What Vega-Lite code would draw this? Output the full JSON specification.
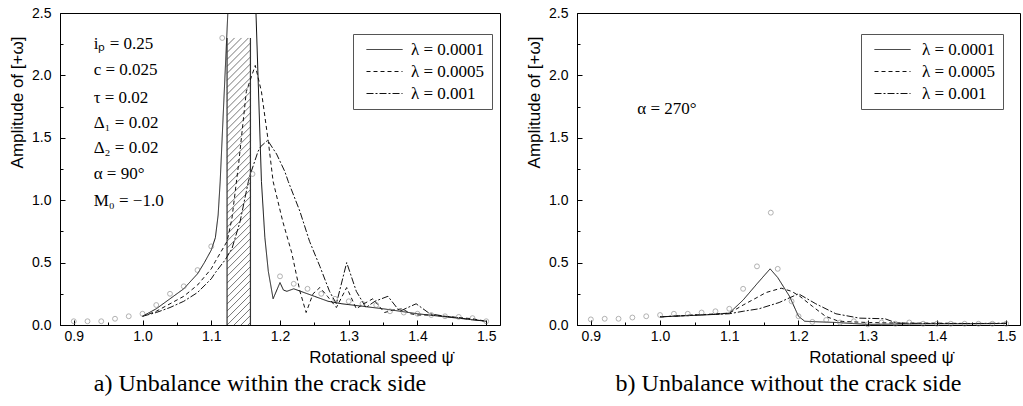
{
  "$schema": "https://vega.github.io/schema/vega-lite/v6.json",
  "padding": {"left": 8, "top": 5, "right": 0, "bottom": 0},
  "background": "white",
  "spacing": 24,
  "datasets": {
    "leftCurves": [
      {"s": "λ = 0.0001", "x": 1.0, "y": 0.07}, {"s": "λ = 0.0001", "x": 1.02, "y": 0.13}, {"s": "λ = 0.0001", "x": 1.04, "y": 0.21}, {"s": "λ = 0.0001", "x": 1.06, "y": 0.29}, {"s": "λ = 0.0001", "x": 1.08, "y": 0.41}, {"s": "λ = 0.0001", "x": 1.09, "y": 0.5}, {"s": "λ = 0.0001", "x": 1.1, "y": 0.6}, {"s": "λ = 0.0001", "x": 1.106, "y": 0.7}, {"s": "λ = 0.0001", "x": 1.11, "y": 0.88}, {"s": "λ = 0.0001", "x": 1.113, "y": 1.15}, {"s": "λ = 0.0001", "x": 1.148, "y": 5.4}, {"s": "λ = 0.0001", "x": 1.173, "y": 1.15}, {"s": "λ = 0.0001", "x": 1.178, "y": 0.7}, {"s": "λ = 0.0001", "x": 1.183, "y": 0.43}, {"s": "λ = 0.0001", "x": 1.19, "y": 0.21}, {"s": "λ = 0.0001", "x": 1.2, "y": 0.34}, {"s": "λ = 0.0001", "x": 1.205, "y": 0.28}, {"s": "λ = 0.0001", "x": 1.21, "y": 0.27}, {"s": "λ = 0.0001", "x": 1.22, "y": 0.29}, {"s": "λ = 0.0001", "x": 1.23, "y": 0.27}, {"s": "λ = 0.0001", "x": 1.25, "y": 0.23}, {"s": "λ = 0.0001", "x": 1.27, "y": 0.19}, {"s": "λ = 0.0001", "x": 1.29, "y": 0.17}, {"s": "λ = 0.0001", "x": 1.32, "y": 0.15}, {"s": "λ = 0.0001", "x": 1.35, "y": 0.13}, {"s": "λ = 0.0001", "x": 1.4, "y": 0.09}, {"s": "λ = 0.0001", "x": 1.45, "y": 0.06}, {"s": "λ = 0.0001", "x": 1.5, "y": 0.03},
      {"s": "λ = 0.0005", "x": 1.0, "y": 0.07}, {"s": "λ = 0.0005", "x": 1.02, "y": 0.11}, {"s": "λ = 0.0005", "x": 1.04, "y": 0.17}, {"s": "λ = 0.0005", "x": 1.06, "y": 0.23}, {"s": "λ = 0.0005", "x": 1.08, "y": 0.32}, {"s": "λ = 0.0005", "x": 1.1, "y": 0.45}, {"s": "λ = 0.0005", "x": 1.106, "y": 0.51}, {"s": "λ = 0.0005", "x": 1.123, "y": 0.67}, {"s": "λ = 0.0005", "x": 1.13, "y": 0.85}, {"s": "λ = 0.0005", "x": 1.14, "y": 1.3}, {"s": "λ = 0.0005", "x": 1.151, "y": 1.87}, {"s": "λ = 0.0005", "x": 1.164, "y": 2.08}, {"s": "λ = 0.0005", "x": 1.173, "y": 1.87}, {"s": "λ = 0.0005", "x": 1.183, "y": 1.47}, {"s": "λ = 0.0005", "x": 1.19, "y": 1.15}, {"s": "λ = 0.0005", "x": 1.204, "y": 0.83}, {"s": "λ = 0.0005", "x": 1.217, "y": 0.58}, {"s": "λ = 0.0005", "x": 1.229, "y": 0.27}, {"s": "λ = 0.0005", "x": 1.238, "y": 0.1}, {"s": "λ = 0.0005", "x": 1.248, "y": 0.25}, {"s": "λ = 0.0005", "x": 1.258, "y": 0.3}, {"s": "λ = 0.0005", "x": 1.269, "y": 0.23}, {"s": "λ = 0.0005", "x": 1.282, "y": 0.14}, {"s": "λ = 0.0005", "x": 1.297, "y": 0.3}, {"s": "λ = 0.0005", "x": 1.311, "y": 0.13}, {"s": "λ = 0.0005", "x": 1.322, "y": 0.17}, {"s": "λ = 0.0005", "x": 1.335, "y": 0.21}, {"s": "λ = 0.0005", "x": 1.352, "y": 0.1}, {"s": "λ = 0.0005", "x": 1.365, "y": 0.12}, {"s": "λ = 0.0005", "x": 1.378, "y": 0.13}, {"s": "λ = 0.0005", "x": 1.39, "y": 0.09}, {"s": "λ = 0.0005", "x": 1.4, "y": 0.08}, {"s": "λ = 0.0005", "x": 1.42, "y": 0.08}, {"s": "λ = 0.0005", "x": 1.44, "y": 0.07}, {"s": "λ = 0.0005", "x": 1.46, "y": 0.06}, {"s": "λ = 0.0005", "x": 1.48, "y": 0.05}, {"s": "λ = 0.0005", "x": 1.5, "y": 0.03},
      {"s": "λ = 0.001", "x": 1.0, "y": 0.07}, {"s": "λ = 0.001", "x": 1.02, "y": 0.1}, {"s": "λ = 0.001", "x": 1.04, "y": 0.14}, {"s": "λ = 0.001", "x": 1.06, "y": 0.19}, {"s": "λ = 0.001", "x": 1.08, "y": 0.26}, {"s": "λ = 0.001", "x": 1.1, "y": 0.37}, {"s": "λ = 0.001", "x": 1.106, "y": 0.42}, {"s": "λ = 0.001", "x": 1.12, "y": 0.52}, {"s": "λ = 0.001", "x": 1.13, "y": 0.61}, {"s": "λ = 0.001", "x": 1.142, "y": 0.83}, {"s": "λ = 0.001", "x": 1.154, "y": 1.15}, {"s": "λ = 0.001", "x": 1.157, "y": 1.21}, {"s": "λ = 0.001", "x": 1.168, "y": 1.39}, {"s": "λ = 0.001", "x": 1.172, "y": 1.43}, {"s": "λ = 0.001", "x": 1.182, "y": 1.48}, {"s": "λ = 0.001", "x": 1.195, "y": 1.37}, {"s": "λ = 0.001", "x": 1.207, "y": 1.23}, {"s": "λ = 0.001", "x": 1.212, "y": 1.15}, {"s": "λ = 0.001", "x": 1.229, "y": 0.91}, {"s": "λ = 0.001", "x": 1.243, "y": 0.67}, {"s": "λ = 0.001", "x": 1.258, "y": 0.47}, {"s": "λ = 0.001", "x": 1.272, "y": 0.27}, {"s": "λ = 0.001", "x": 1.282, "y": 0.17}, {"s": "λ = 0.001", "x": 1.297, "y": 0.5}, {"s": "λ = 0.001", "x": 1.311, "y": 0.27}, {"s": "λ = 0.001", "x": 1.325, "y": 0.14}, {"s": "λ = 0.001", "x": 1.338, "y": 0.19}, {"s": "λ = 0.001", "x": 1.357, "y": 0.23}, {"s": "λ = 0.001", "x": 1.374, "y": 0.11}, {"s": "λ = 0.001", "x": 1.386, "y": 0.14}, {"s": "λ = 0.001", "x": 1.398, "y": 0.17}, {"s": "λ = 0.001", "x": 1.418, "y": 0.09}, {"s": "λ = 0.001", "x": 1.44, "y": 0.07}, {"s": "λ = 0.001", "x": 1.47, "y": 0.05}, {"s": "λ = 0.001", "x": 1.5, "y": 0.03}
    ],
    "leftPts": [
      {"x": 0.9, "y": 0.03}, {"x": 0.92, "y": 0.03}, {"x": 0.94, "y": 0.03}, {"x": 0.96, "y": 0.05}, {"x": 0.98, "y": 0.07}, {"x": 1.0, "y": 0.09}, {"x": 1.02, "y": 0.16}, {"x": 1.04, "y": 0.25}, {"x": 1.06, "y": 0.31}, {"x": 1.08, "y": 0.44}, {"x": 1.1, "y": 0.63}, {"x": 1.116, "y": 2.3}, {"x": 1.16, "y": 1.21}, {"x": 1.2, "y": 0.39}, {"x": 1.22, "y": 0.33}, {"x": 1.24, "y": 0.29}, {"x": 1.26, "y": 0.25}, {"x": 1.28, "y": 0.21}, {"x": 1.3, "y": 0.19}, {"x": 1.32, "y": 0.17}, {"x": 1.34, "y": 0.16}, {"x": 1.36, "y": 0.11}, {"x": 1.38, "y": 0.1}, {"x": 1.4, "y": 0.09}, {"x": 1.42, "y": 0.08}, {"x": 1.44, "y": 0.07}, {"x": 1.46, "y": 0.065}, {"x": 1.48, "y": 0.055}, {"x": 1.5, "y": 0.03}
    ],
    "crack": [{"x": 1.123, "x2": 1.157, "y": 0, "y2": 2.3}],
    "crackEdges": [{"x": 1.123, "y": 0, "y2": 2.3}, {"x": 1.157, "y": 0, "y2": 2.3}],
    "hatch": [
      {"x": 1.123, "y": -0.168, "x2": 1.157, "y2": 0.02}, {"x": 1.123, "y": -0.112, "x2": 1.157, "y2": 0.076}, {"x": 1.123, "y": -0.056, "x2": 1.157, "y2": 0.132}, {"x": 1.123, "y": 0, "x2": 1.157, "y2": 0.188}, {"x": 1.123, "y": 0.056, "x2": 1.157, "y2": 0.244}, {"x": 1.123, "y": 0.112, "x2": 1.157, "y2": 0.3}, {"x": 1.123, "y": 0.168, "x2": 1.157, "y2": 0.356}, {"x": 1.123, "y": 0.224, "x2": 1.157, "y2": 0.412}, {"x": 1.123, "y": 0.28, "x2": 1.157, "y2": 0.468}, {"x": 1.123, "y": 0.336, "x2": 1.157, "y2": 0.524}, {"x": 1.123, "y": 0.392, "x2": 1.157, "y2": 0.58}, {"x": 1.123, "y": 0.448, "x2": 1.157, "y2": 0.636}, {"x": 1.123, "y": 0.504, "x2": 1.157, "y2": 0.692}, {"x": 1.123, "y": 0.56, "x2": 1.157, "y2": 0.748}, {"x": 1.123, "y": 0.616, "x2": 1.157, "y2": 0.804}, {"x": 1.123, "y": 0.672, "x2": 1.157, "y2": 0.86}, {"x": 1.123, "y": 0.728, "x2": 1.157, "y2": 0.916}, {"x": 1.123, "y": 0.784, "x2": 1.157, "y2": 0.972}, {"x": 1.123, "y": 0.84, "x2": 1.157, "y2": 1.028}, {"x": 1.123, "y": 0.896, "x2": 1.157, "y2": 1.084}, {"x": 1.123, "y": 0.952, "x2": 1.157, "y2": 1.14}, {"x": 1.123, "y": 1.008, "x2": 1.157, "y2": 1.196}, {"x": 1.123, "y": 1.064, "x2": 1.157, "y2": 1.252}, {"x": 1.123, "y": 1.12, "x2": 1.157, "y2": 1.308}, {"x": 1.123, "y": 1.176, "x2": 1.157, "y2": 1.364}, {"x": 1.123, "y": 1.232, "x2": 1.157, "y2": 1.42}, {"x": 1.123, "y": 1.288, "x2": 1.157, "y2": 1.476}, {"x": 1.123, "y": 1.344, "x2": 1.157, "y2": 1.532}, {"x": 1.123, "y": 1.4, "x2": 1.157, "y2": 1.588}, {"x": 1.123, "y": 1.456, "x2": 1.157, "y2": 1.644}, {"x": 1.123, "y": 1.512, "x2": 1.157, "y2": 1.7}, {"x": 1.123, "y": 1.568, "x2": 1.157, "y2": 1.756}, {"x": 1.123, "y": 1.624, "x2": 1.157, "y2": 1.812}, {"x": 1.123, "y": 1.68, "x2": 1.157, "y2": 1.868}, {"x": 1.123, "y": 1.736, "x2": 1.157, "y2": 1.924}, {"x": 1.123, "y": 1.792, "x2": 1.157, "y2": 1.98}, {"x": 1.123, "y": 1.848, "x2": 1.157, "y2": 2.036}, {"x": 1.123, "y": 1.904, "x2": 1.157, "y2": 2.092}, {"x": 1.123, "y": 1.96, "x2": 1.157, "y2": 2.148}, {"x": 1.123, "y": 2.016, "x2": 1.157, "y2": 2.204}, {"x": 1.123, "y": 2.072, "x2": 1.157, "y2": 2.26}, {"x": 1.123, "y": 2.128, "x2": 1.1541, "y2": 2.3}, {"x": 1.123, "y": 2.184, "x2": 1.144, "y2": 2.3}, {"x": 1.123, "y": 2.24, "x2": 1.1339, "y2": 2.3}
    ],
    "leftText": [
      {"x": 0.929, "y": 2.25, "t": "iₚ = 0.25"}, {"x": 0.929, "y": 2.04, "t": "c = 0.025"}, {"x": 0.929, "y": 1.82, "t": "τ = 0.02"}, {"x": 0.929, "y": 1.62, "t": "Δ₁ = 0.02"}, {"x": 0.929, "y": 1.42, "t": "Δ₂ = 0.02"}, {"x": 0.929, "y": 1.21, "t": "α = 90°"}, {"x": 0.929, "y": 0.99, "t": "M₀ = −1.0"}
    ],
    "rightCurves": [
      {"s": "λ = 0.0001", "x": 1.0, "y": 0.065}, {"s": "λ = 0.0001", "x": 1.04, "y": 0.075}, {"s": "λ = 0.0001", "x": 1.08, "y": 0.085}, {"s": "λ = 0.0001", "x": 1.1, "y": 0.095}, {"s": "λ = 0.0001", "x": 1.12, "y": 0.2}, {"s": "λ = 0.0001", "x": 1.14, "y": 0.33}, {"s": "λ = 0.0001", "x": 1.159, "y": 0.45}, {"s": "λ = 0.0001", "x": 1.17, "y": 0.38}, {"s": "λ = 0.0001", "x": 1.187, "y": 0.23}, {"s": "λ = 0.0001", "x": 1.2, "y": 0.07}, {"s": "λ = 0.0001", "x": 1.209, "y": 0.03}, {"s": "λ = 0.0001", "x": 1.23, "y": 0.025}, {"s": "λ = 0.0001", "x": 1.255, "y": 0.02}, {"s": "λ = 0.0001", "x": 1.278, "y": 0.012}, {"s": "λ = 0.0001", "x": 1.3, "y": 0.005}, {"s": "λ = 0.0001", "x": 1.35, "y": 0.008}, {"s": "λ = 0.0001", "x": 1.4, "y": 0.01}, {"s": "λ = 0.0001", "x": 1.45, "y": 0.01}, {"s": "λ = 0.0001", "x": 1.5, "y": 0.012},
      {"s": "λ = 0.0005", "x": 1.0, "y": 0.065}, {"s": "λ = 0.0005", "x": 1.05, "y": 0.08}, {"s": "λ = 0.0005", "x": 1.1, "y": 0.095}, {"s": "λ = 0.0005", "x": 1.12, "y": 0.16}, {"s": "λ = 0.0005", "x": 1.14, "y": 0.22}, {"s": "λ = 0.0005", "x": 1.153, "y": 0.26}, {"s": "λ = 0.0005", "x": 1.175, "y": 0.295}, {"s": "λ = 0.0005", "x": 1.19, "y": 0.27}, {"s": "λ = 0.0005", "x": 1.202, "y": 0.23}, {"s": "λ = 0.0005", "x": 1.22, "y": 0.15}, {"s": "λ = 0.0005", "x": 1.239, "y": 0.07}, {"s": "λ = 0.0005", "x": 1.258, "y": 0.03}, {"s": "λ = 0.0005", "x": 1.3, "y": 0.02}, {"s": "λ = 0.0005", "x": 1.35, "y": 0.015}, {"s": "λ = 0.0005", "x": 1.4, "y": 0.015}, {"s": "λ = 0.0005", "x": 1.45, "y": 0.012}, {"s": "λ = 0.0005", "x": 1.5, "y": 0.012},
      {"s": "λ = 0.001", "x": 1.0, "y": 0.065}, {"s": "λ = 0.001", "x": 1.05, "y": 0.08}, {"s": "λ = 0.001", "x": 1.1, "y": 0.09}, {"s": "λ = 0.001", "x": 1.12, "y": 0.11}, {"s": "λ = 0.001", "x": 1.143, "y": 0.13}, {"s": "λ = 0.001", "x": 1.172, "y": 0.18}, {"s": "λ = 0.001", "x": 1.2, "y": 0.25}, {"s": "λ = 0.001", "x": 1.225, "y": 0.17}, {"s": "λ = 0.001", "x": 1.254, "y": 0.09}, {"s": "λ = 0.001", "x": 1.288, "y": 0.055}, {"s": "λ = 0.001", "x": 1.325, "y": 0.05}, {"s": "λ = 0.001", "x": 1.342, "y": 0.015}, {"s": "λ = 0.001", "x": 1.4, "y": 0.012}, {"s": "λ = 0.001", "x": 1.45, "y": 0.012}, {"s": "λ = 0.001", "x": 1.5, "y": 0.015}
    ],
    "rightPts": [
      {"x": 0.9, "y": 0.045}, {"x": 0.92, "y": 0.05}, {"x": 0.94, "y": 0.05}, {"x": 0.96, "y": 0.06}, {"x": 0.98, "y": 0.07}, {"x": 1.0, "y": 0.08}, {"x": 1.02, "y": 0.09}, {"x": 1.04, "y": 0.09}, {"x": 1.06, "y": 0.1}, {"x": 1.08, "y": 0.11}, {"x": 1.1, "y": 0.13}, {"x": 1.12, "y": 0.29}, {"x": 1.14, "y": 0.47}, {"x": 1.16, "y": 0.9}, {"x": 1.17, "y": 0.45}, {"x": 1.19, "y": 0.19}, {"x": 1.2, "y": 0.07}, {"x": 1.22, "y": 0.025}, {"x": 1.24, "y": 0.04}, {"x": 1.26, "y": 0.02}, {"x": 1.28, "y": 0.03}, {"x": 1.3, "y": 0.005}, {"x": 1.32, "y": 0.02}, {"x": 1.34, "y": 0.01}, {"x": 1.36, "y": 0.02}, {"x": 1.38, "y": 0.01}, {"x": 1.4, "y": 0.01}, {"x": 1.42, "y": 0.01}, {"x": 1.44, "y": 0.01}, {"x": 1.46, "y": 0.01}, {"x": 1.48, "y": 0.01}, {"x": 1.5, "y": 0.01}
    ],
    "rightText": [{"x": 0.967, "y": 1.73, "t": "α = 270°"}]
  },
  "hconcat": [
    {
      "width": 440,
      "height": 312,
      "title": {"text": "a) Unbalance within the crack side", "orient": "bottom", "anchor": "middle", "font": "Liberation Serif", "fontSize": 24, "fontWeight": "normal", "color": "#000", "offset": 7, "dx": -20},
      "encoding": {
        "x": {"field": "x", "type": "quantitative", "scale": {"domain": [0.88, 1.52], "nice": false, "zero": false},
          "axis": {"title": "Rotational speed ψ̇", "titleX": 321, "titleY": 24, "values": [0.9, 0.95, 1.0, 1.05, 1.1, 1.15, 1.2, 1.25, 1.3, 1.35, 1.4, 1.45, 1.5],
            "labelExpr": "round(datum.value*100) % 10 == 0 ? format(datum.value, '.1f') : ''",
            "tickSize": {"condition": {"test": "round(datum.value*100) % 10 == 0", "value": -5}, "value": -3},
            "labelPadding": 9}},
        "y": {"field": "y", "type": "quantitative", "scale": {"domain": [0, 2.5], "nice": false},
          "axis": {"title": "Amplitude of [+ω]", "titleY": 89, "values": [0, 0.25, 0.5, 0.75, 1.0, 1.25, 1.5, 1.75, 2.0, 2.25, 2.5],
            "labelExpr": "round(datum.value*100) % 50 == 0 ? format(datum.value, '.1f') : ''",
            "tickSize": {"condition": {"test": "round(datum.value*100) % 50 == 0", "value": -5}, "value": -3},
            "labelPadding": 14, "titlePadding": 5}}
      },
      "layer": [
        {"data": {"name": "crack"}, "mark": {"type": "rect", "fill": "white", "strokeWidth": 0}, "encoding": {"x2": {"field": "x2"}, "y2": {"field": "y2"}}},
        {"data": {"name": "hatch"}, "mark": {"type": "rule", "stroke": "#555", "strokeWidth": 0.8, "clip": true}, "encoding": {"x2": {"field": "x2"}, "y2": {"field": "y2"}}},
        {"data": {"name": "crackEdges"}, "mark": {"type": "rule", "stroke": "#333", "strokeWidth": 1.2}, "encoding": {"y2": {"field": "y2"}}},
        {"data": {"name": "leftCurves"}, "mark": {"type": "line", "stroke": "#111", "strokeWidth": 1, "clip": true},
          "encoding": {"strokeDash": {"field": "s", "type": "nominal", "scale": {"domain": ["λ = 0.0001", "λ = 0.0005", "λ = 0.001"], "range": [[1, 0], [4, 3], [7, 2, 2, 2]]}, "legend": {"title": null, "orient": "none", "legendX": 293, "legendY": 21}}}},
        {"data": {"name": "leftPts"}, "mark": {"type": "point", "shape": "circle", "filled": false, "stroke": "#777", "strokeWidth": 0.8, "size": 24}},
        {"data": {"name": "leftText"}, "mark": {"type": "text", "align": "left", "baseline": "middle", "font": "Liberation Serif", "fontSize": 17, "color": "#000"}, "encoding": {"text": {"field": "t"}}}
      ],
      "resolve": {"scale": {"strokeDash": "independent"}, "legend": {"strokeDash": "independent"}}
    },
    {
      "width": 443,
      "height": 312,
      "title": {"text": "b) Unbalance without the crack side", "orient": "bottom", "anchor": "middle", "font": "Liberation Serif", "fontSize": 24, "fontWeight": "normal", "color": "#000", "offset": 7, "dx": -10},
      "encoding": {
        "x": {"field": "x", "type": "quantitative", "scale": {"domain": [0.88, 1.52], "nice": false, "zero": false},
          "axis": {"title": "Rotational speed ψ̇", "titleX": 304, "titleY": 24, "values": [0.9, 0.95, 1.0, 1.05, 1.1, 1.15, 1.2, 1.25, 1.3, 1.35, 1.4, 1.45, 1.5],
            "labelExpr": "round(datum.value*100) % 10 == 0 ? format(datum.value, '.1f') : ''",
            "tickSize": {"condition": {"test": "round(datum.value*100) % 10 == 0", "value": -5}, "value": -3},
            "labelPadding": 9}},
        "y": {"field": "y", "type": "quantitative", "scale": {"domain": [0, 2.5], "nice": false},
          "axis": {"title": "Amplitude of [+ω]", "titleY": 89, "values": [0, 0.25, 0.5, 0.75, 1.0, 1.25, 1.5, 1.75, 2.0, 2.25, 2.5],
            "labelExpr": "round(datum.value*100) % 50 == 0 ? format(datum.value, '.1f') : ''",
            "tickSize": {"condition": {"test": "round(datum.value*100) % 50 == 0", "value": -5}, "value": -3},
            "labelPadding": 14, "titlePadding": 5}}
      },
      "layer": [
        {"data": {"name": "rightCurves"}, "mark": {"type": "line", "stroke": "#111", "strokeWidth": 1, "clip": true},
          "encoding": {"strokeDash": {"field": "s", "type": "nominal", "scale": {"domain": ["λ = 0.0001", "λ = 0.0005", "λ = 0.001"], "range": [[1, 0], [4, 3], [7, 2, 2, 2]]}, "legend": {"title": null, "orient": "none", "legendX": 284, "legendY": 21, "labelOffset": 37}}}},
        {"data": {"name": "rightPts"}, "mark": {"type": "point", "shape": "circle", "filled": false, "stroke": "#777", "strokeWidth": 0.8, "size": 24}},
        {"data": {"name": "rightText"}, "mark": {"type": "text", "align": "left", "baseline": "middle", "font": "Liberation Serif", "fontSize": 17, "color": "#000"}, "encoding": {"text": {"field": "t"}}}
      ]
    }
  ],
  "resolve": {"scale": {"strokeDash": "independent"}, "legend": {"strokeDash": "independent"}},
  "config": {
    "view": {"stroke": "#000", "strokeWidth": 1},
    "axis": {"grid": false, "labelFont": "Liberation Sans", "labelFontSize": 14, "labelColor": "#000", "titleFont": "Liberation Sans", "titleFontSize": 17, "titleFontWeight": "normal", "titleColor": "#000", "tickColor": "#000", "domainColor": "#000", "labelFlush": false},
    "legend": {"strokeColor": "#555", "padding": 7, "labelFont": "Liberation Serif", "labelFontSize": 17, "labelColor": "#000", "symbolType": "M-0.5,0H8.5", "symbolSize": 64, "symbolStrokeColor": "#111", "symbolStrokeWidth": 1, "labelOffset": 34, "rowPadding": 4, "fillColor": "white"}
  }
}
